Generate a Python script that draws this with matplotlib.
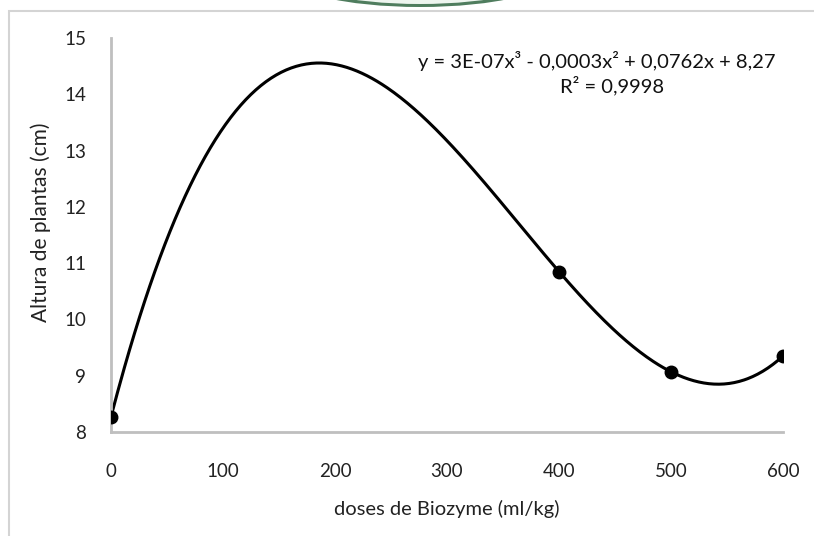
import numpy as np
import matplotlib
matplotlib.use("Agg")
import matplotlib.pyplot as plt
from matplotlib.patches import Rectangle, Ellipse

plt.rcParams['font.family'] = ['Lato', 'DejaVu Sans']

doses = [0, 400, 500, 600]
altura = [8.27, 10.85, 9.07, 9.35]
x_ticks = [0, 100, 200, 300, 400, 500, 600]
y_ticks = [8, 9, 10, 11, 12, 13, 14, 15]
equation = "y = 3E-07x³ - 0,0003x² + 0,0762x + 8,27"
r2_text = "R² = 0,9998"
xlabel = "doses de Biozyme (ml/kg)"
ylabel = "Altura de plantas (cm)"

W, H = 814, 536
fig = plt.figure(figsize=(W / 100, H / 100), dpi=100)

# outer chart border
fig.add_artist(Rectangle((9 / W, -0.05), 1.1, (H - 11) / H + 0.05, transform=fig.transFigure,
                         fill=False, edgecolor='#d4d4d4', linewidth=1.5))
# green arc from logo above
fig.add_artist(Ellipse((420 / W, 1 + 26 / H), 272 / W, 66 / H, transform=fig.transFigure,
                       facecolor='#4f7d5e', edgecolor='none'))
fig.add_artist(Ellipse((420 / W, 1 + 28 / H), 262 / W, 64 / H, transform=fig.transFigure,
                       facecolor='#eef5ef', edgecolor='none'))

ax = fig.add_axes([111 / W, (H - 432) / H, (783 - 111) / W, (432 - 38) / H])

coef = np.polyfit(doses, altura, 3)
xs = np.linspace(min(doses), max(doses), 400)
ax.plot(xs, np.polyval(coef, xs), color='black', linewidth=2.2, zorder=2)
ax.plot(doses, altura, 'o', color='black', markersize=9, zorder=3)

ax.set_xlim(0, 600)
ax.set_ylim(8, 15)
ax.set_xticks(x_ticks)
ax.set_yticks(y_ticks)
ax.tick_params(axis='both', length=0, labelsize=13.5, colors='#222222')
ax.tick_params(axis='x', pad=22)
ax.tick_params(axis='y', pad=18)
for s in ['top', 'right']:
    ax.spines[s].set_visible(False)
for s in ['left', 'bottom']:
    ax.spines[s].set_color('#bfbfbf')
    ax.spines[s].set_linewidth(2)

fig.text(775 / W, 1 - 61 / H, equation, ha='right', va='center', fontsize=14.5, color='#111111')
fig.text(612 / W, 1 - 86 / H, r2_text, ha='center', va='center', fontsize=14.5, color='#111111')
fig.text(447 / W, 1 - 509 / H, xlabel, ha='center', va='center', fontsize=14.5, color='#222222')
fig.text(41 / W, 1 - 222 / H, ylabel, ha='center', va='center', rotation=90, fontsize=15, color='#222222')

fig.savefig('out.png', dpi=100, facecolor='white')
